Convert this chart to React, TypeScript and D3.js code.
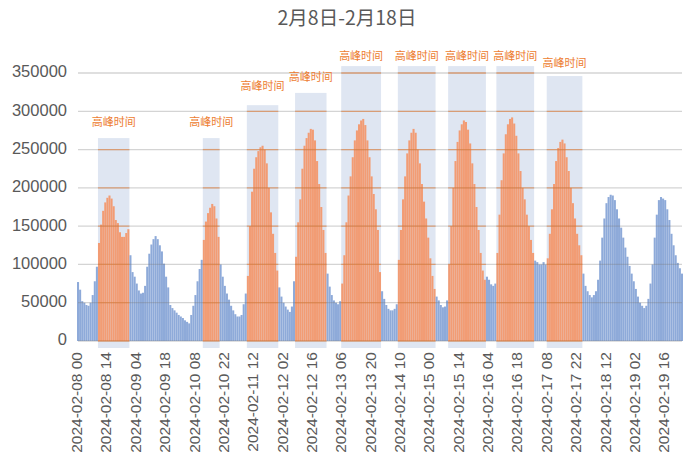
import React from "react";
import * as d3 from "d3";

// hourly values (thousands) per day, starting 2024-02-08 00:00
const day0208 = [77, 67, 52, 50, 47, 46, 50, 60, 78, 97, 128, 152, 170, 181, 187, 190, 186, 176, 158, 154, 142, 136, 136, 141];
const day0209 = [146, 112, 90, 84, 75, 66, 62, 63, 72, 97, 114, 126, 133, 137, 133, 125, 117, 101, 84, 70, 47, 43, 40, 37];
const day0210 = [34, 32, 30, 27, 25, 23, 34, 46, 60, 78, 94, 106, 132, 156, 167, 174, 179, 176, 160, 136, 100, 84, 72, 62];
const day0211 = [54, 46, 40, 35, 32, 32, 34, 48, 62, 85, 150, 195, 225, 240, 248, 253, 255, 250, 232, 200, 168, 140, 115, 92];
const day0212 = [70, 58, 50, 45, 41, 38, 45, 78, 110, 155, 185, 225, 255, 265, 272, 277, 276, 262, 235, 205, 175, 145, 115, 88];
const day0213 = [71, 60, 53, 50, 48, 52, 75, 112, 155, 190, 215, 240, 262, 275, 283, 288, 290, 282, 262, 240, 215, 192, 172, 145];
const day0214 = [90, 65, 55, 47, 42, 40, 40, 42, 48, 106, 145, 185, 215, 245, 262, 272, 277, 272, 250, 232, 205, 182, 160, 135];
const day0215 = [108, 85, 68, 58, 53, 47, 44, 45, 53, 100, 150, 200, 235, 260, 275, 283, 288, 286, 276, 258, 232, 205, 175, 145];
const day0216 = [115, 92, 80, 84, 80, 74, 72, 75, 115, 165, 210, 245, 270, 283, 290, 292, 284, 268, 245, 222, 200, 185, 165, 150];
const day0217 = [132, 115, 105, 103, 100, 100, 103, 100, 108, 140, 172, 205, 235, 252, 260, 263, 258, 240, 222, 200, 180, 160, 140, 125];
const day0218 = [112, 88, 72, 65, 60, 57, 60, 65, 80, 105, 135, 160, 180, 188, 191, 190, 184, 172, 160, 148, 135, 122, 110, 98];
const day0219 = [88, 78, 68, 58, 50, 46, 43, 46, 55, 75, 100, 135, 165, 184, 188, 186, 184, 172, 158, 140, 125, 112, 102, 95];
const day0220 = [88];

const values = [
  ...day0208, ...day0209, ...day0210, ...day0211, ...day0212, ...day0213,
  ...day0214, ...day0215, ...day0216, ...day0217, ...day0218, ...day0219, ...day0220,
].map((v) => v * 1000);

const startDate = new Date(2024, 1, 8, 0);
const fmt = d3.timeFormat("%Y-%m-%d %H");
const categories = values.map((_, i) => fmt(d3.timeHour.offset(startDate, i)));

const tickLabels = [
  "2024-02-08 00", "2024-02-08 14", "2024-02-09 04", "2024-02-09 18", "2024-02-10 08",
  "2024-02-10 22", "2024-02-11 12", "2024-02-12 02", "2024-02-12 16", "2024-02-13 06",
  "2024-02-13 20", "2024-02-14 10", "2024-02-15 00", "2024-02-15 14", "2024-02-16 04",
  "2024-02-16 18", "2024-02-17 08", "2024-02-17 22", "2024-02-18 12", "2024-02-19 02",
  "2024-02-19 16",
];
const yTicks = [0, 50000, 100000, 150000, 200000, 250000, 300000, 350000];

// peak periods (category labels of first/last peak hour)
const peakStart = ["2024-02-08 10", "2024-02-10 12", "2024-02-11 09", "2024-02-12 08", "2024-02-13 06", "2024-02-14 09", "2024-02-15 09", "2024-02-16 08", "2024-02-17 08"];
const peakEnd = ["2024-02-09 00", "2024-02-10 19", "2024-02-11 23", "2024-02-12 22", "2024-02-14 00", "2024-02-15 02", "2024-02-16 02", "2024-02-17 01", "2024-02-18 00"];
const peakBandTop = [265000, 265000, 308000, 324000, 359000, 359000, 359000, 359000, 346000];
const peakLabelLevel = [285000, 285000, 332000, 343000, 371000, 371000, 371000, 371000, 362000];
const peakLabel = "高峰时间";
const title = "2月8日-2月18日";

const BLUE = "#8eaad9";
const ORANGE = "#f29c74";
const BAND = "#dfe6f2";
const TEXT = "#595959";

export default function App() {
  const W = 700, H = 470;
  const x = d3.scaleBand<string>().domain(categories).range([77, 683]).paddingInner(0.02).paddingOuter(0);
  const y = d3.scaleLinear().domain([0, 350000]).range([341, 73]);
  const bw = x.bandwidth();
  const step = x.step();
  const cx = (c: string) => (x(c) as number) + bw / 2;

  const peaks = peakStart.map((s, i) => {
    const si = categories.indexOf(s);
    const ei = categories.indexOf(peakEnd[i]);
    const x0 = (x(s) as number) - (step - bw) / 2;
    const x1 = (x(peakEnd[i]) as number) + bw + (step - bw) / 2;
    return { si, ei, x0, x1, top: peakBandTop[i], lab: peakLabelLevel[i] };
  });
  const isPeak = (i: number) => peaks.some((p) => i >= p.si && i <= p.ei);

  const gx0 = 78, gx1 = 682;
  const numFont = "'Liberation Sans', Arial, sans-serif";
  const cjkFont = "'Noto Sans CJK SC', 'Noto Sans', sans-serif";

  return (
    <svg width={W} height={H} style={{ position: "absolute", left: 0, top: 0, background: "#fff" }}>
      <rect x={0} y={0} width={W} height={H} fill="#fff" />
      <text x={347} y={25} textAnchor="middle" fontSize={19.5} fill={TEXT} fontFamily={cjkFont}>{title}</text>

      {peaks.map((p, i) => (
        <rect key={"band" + i} x={p.x0} width={p.x1 - p.x0} y={y(p.top)} height={y(0) + 7 - y(p.top)} fill={BAND} />
      ))}

      {values.map((v, i) => (
        <rect key={"bar" + i} x={x(categories[i])} width={bw} y={y(v)} height={y(0) - y(v)} fill={isPeak(i) ? ORANGE : BLUE} />
      ))}

      {yTicks.map((t) => (
        <g key={"grid" + t}>
          <line x1={gx0} x2={gx1} y1={y(t)} y2={y(t)} stroke="rgba(120,120,120,0.32)" strokeWidth={1.3} />
          {peaks.filter((p) => t <= p.top).map((p, i) => (
            <line key={i} x1={p.x0} x2={p.x1} y1={y(t)} y2={y(t)} stroke="rgba(237,125,49,0.55)" strokeWidth={1.3} />
          ))}
        </g>
      ))}

      {peaks.map((p, i) => (
        <text key={"lab" + i} x={(p.x0 + p.x1) / 2} y={y(p.lab)} textAnchor="middle" dominantBaseline="middle" fontSize={11} fill="#ed7d31" fontFamily={cjkFont}>{peakLabel}</text>
      ))}

      {yTicks.map((t) => (
        <text key={"yl" + t} x={67} y={y(t)} textAnchor="end" dominantBaseline="middle" fontSize={16.5} fill={TEXT} fontFamily={numFont}>{t}</text>
      ))}

      {tickLabels.map((l) => (
        <text key={"xl" + l} transform={`translate(${cx(l)},352) rotate(-90)`} textAnchor="end" dominantBaseline="middle" fontSize={15.5} fill={TEXT} fontFamily={numFont}>{l}</text>
      ))}
    </svg>
  );
}
